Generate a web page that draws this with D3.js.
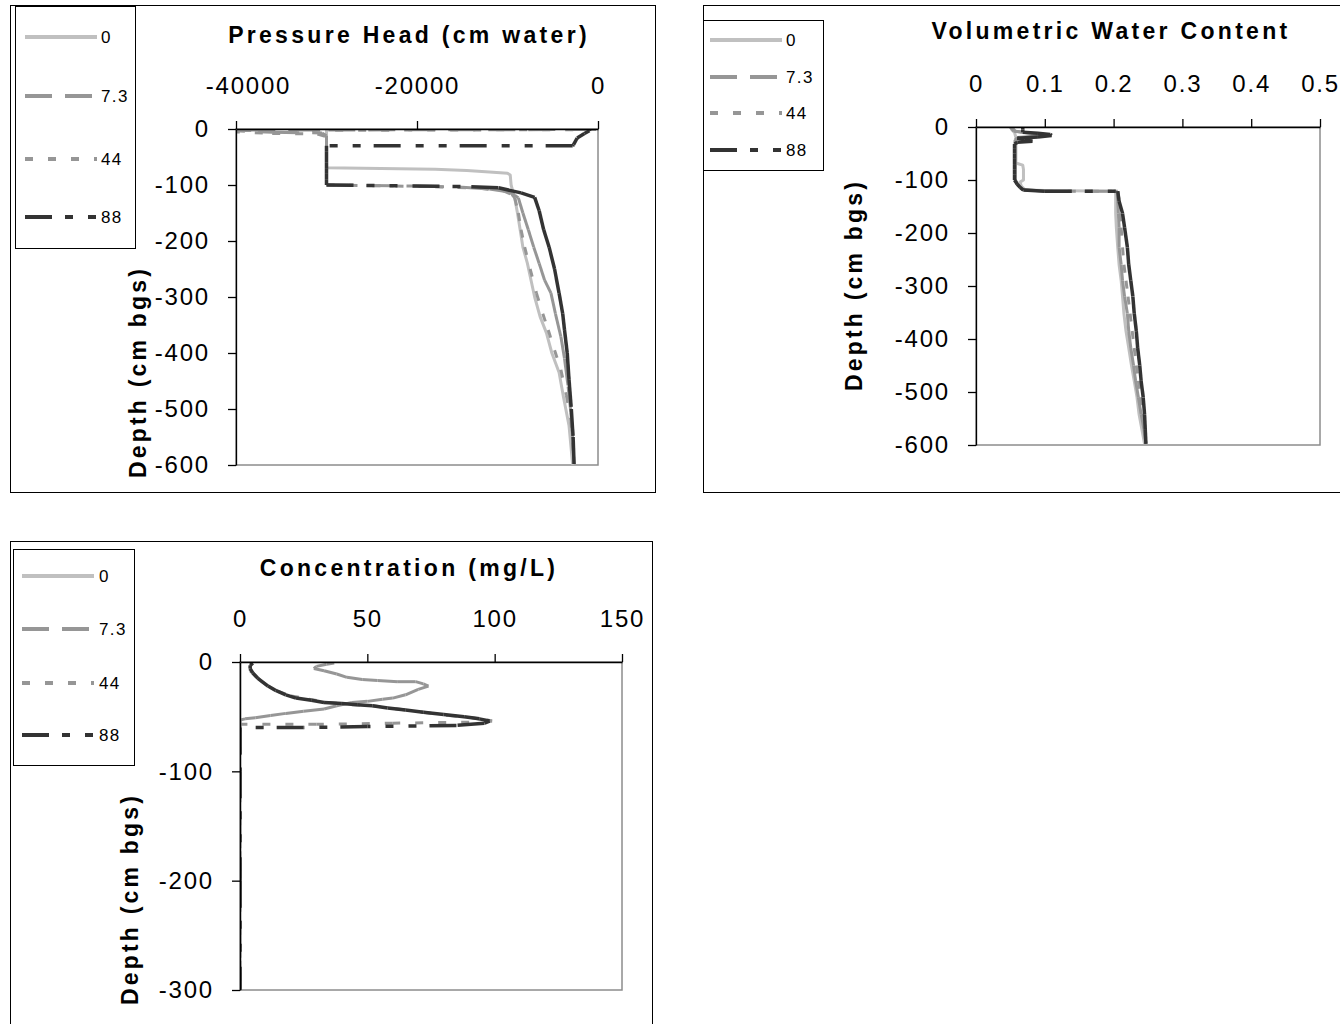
<!DOCTYPE html>
<html>
<head>
<meta charset="utf-8">
<script src="https://cdn.jsdelivr.net/npm/d3@7"></script>
<style>
html, body { margin: 0; padding: 0; background: #fff; }
svg { display: block; }
</style>
</head>
<body>
<svg id="chart" width="1340" height="1024"></svg>
<script>
// Elapsed time of each profile (legend entries)
const seriesNames = ["0", "7.3", "44", "88"];

// Pressure head profiles: [head (cm water), depth (cm bgs)]
const head0 = [[-30000,0],[-30000,-10],[-30000,-20],[-30000,-30],[-30000,-40],[-30000,-50],[-30000,-60],[-30000,-69],
  [-26000,-70],[-22000,-71],[-18000,-72],[-14500,-74],[-12000,-77],[-10000,-79],[-9700,-82],[-9600,-100],[-9400,-112],
  [-9200,-123],[-8900,-150],[-8600,-180],[-8300,-211],[-7800,-240],[-7400,-270],[-7000,-300],[-6400,-335],[-5700,-364],
  [-5100,-400],[-4300,-435],[-3800,-480],[-3200,-530],[-3000,-565],[-2800,-600]];
const head73 = [[-300,-1],[-42000,-2],[-36000,-6],[-30500,-7],[-30000,-12],[-30000,-20],[-30000,-30],[-30000,-40],
  [-30000,-50],[-30000,-60],[-30000,-70],[-30000,-80],[-30000,-90],[-30000,-100],[-20000,-102],[-15000,-104],
  [-12000,-107],[-10000,-112],[-9200,-118],[-8800,-123],[-8300,-150],[-7700,-180],[-7100,-211],[-6500,-240],
  [-5900,-270],[-5200,-293],[-4700,-330],[-4100,-371],[-3700,-410],[-3300,-460],[-3000,-506],[-2800,-550],[-2650,-600]];
const head44 = [[-200,-1],[-43000,-3],[-36000,-8],[-31000,-9],[-30000,-14],[-30000,-20],[-30000,-30],[-30000,-40],
  [-30000,-50],[-30000,-60],[-30000,-70],[-30000,-80],[-30000,-90],[-30000,-100],[-18000,-103],[-13000,-106],
  [-10500,-110],[-9500,-117],[-9200,-123],[-8800,-150],[-8500,-180],[-8100,-211],[-7500,-250],[-6800,-293],
  [-6100,-330],[-5500,-359],[-4800,-395],[-4100,-430],[-3500,-475],[-3000,-519],[-2800,-560],[-2650,-597]];
const head88 = [[-900,0],[-950,-3],[-1500,-8],[-2300,-16],[-2700,-28],[-2800,-30],[-30000,-30],[-30000,-40],
  [-30000,-50],[-30000,-60],[-30000,-70],[-30000,-80],[-30000,-90],[-30000,-100],[-14000,-103],[-11000,-105],
  [-8500,-114],[-7000,-122],[-6500,-146],[-6000,-180],[-5400,-211],[-4800,-250],[-4300,-293],[-3900,-330],
  [-3700,-359],[-3400,-400],[-3200,-448],[-2950,-500],[-2750,-550],[-2640,-600]];

// Volumetric water content profiles: [theta, depth (cm bgs)]
const wc0 = [[0.05,0],[0.052,-5],[0.056,-10],[0.058,-20],[0.058,-68],[0.068,-72],[0.069,-80],[0.069,-100],
  [0.064,-104],[0.066,-112],[0.072,-119],[0.1,-120],[0.203,-121],[0.203,-163],[0.204,-190],[0.206,-227],[0.208,-260],
  [0.211,-290],[0.213,-320],[0.215,-352],[0.218,-385],[0.222,-417],[0.226,-450],[0.230,-479],[0.234,-510],
  [0.237,-542],[0.241,-570],[0.245,-598]];
const wc73 = [[0.05,0],[0.055,-8],[0.08,-12],[0.1,-14],[0.09,-17],[0.06,-20],[0.057,-25],[0.057,-30],[0.057,-40],
  [0.057,-50],[0.057,-60],[0.057,-70],[0.057,-80],[0.057,-90],[0.057,-100],[0.06,-108],[0.068,-118],[0.1,-121],
  [0.205,-121],[0.206,-140],[0.207,-163],[0.208,-190],[0.208,-227],[0.211,-260],[0.213,-290],[0.216,-320],
  [0.220,-352],[0.222,-385],[0.225,-417],[0.229,-450],[0.232,-479],[0.236,-510],[0.240,-542],[0.244,-570],[0.247,-598]];
const wc44 = [[0.052,0],[0.057,-8],[0.085,-13],[0.095,-15],[0.065,-19],[0.057,-24],[0.057,-30],[0.057,-40],
  [0.057,-50],[0.057,-60],[0.057,-70],[0.057,-80],[0.057,-90],[0.057,-100],[0.06,-108],[0.068,-119],[0.1,-121],
  [0.206,-121],[0.208,-140],[0.209,-163],[0.211,-190],[0.213,-227],[0.215,-260],[0.218,-290],[0.221,-320],
  [0.224,-352],[0.227,-385],[0.230,-417],[0.233,-450],[0.236,-479],[0.239,-510],[0.242,-542],[0.245,-570],[0.247,-598]];
const wc88 = [[0.068,0],[0.068,-5],[0.068,-10],[0.09,-12],[0.108,-14],[0.11,-16],[0.09,-19],[0.06,-21],[0.07,-24],
  [0.082,-27],[0.06,-29],[0.056,-32],[0.056,-40],[0.056,-50],[0.056,-60],[0.056,-70],[0.056,-80],[0.056,-90],
  [0.056,-100],[0.06,-108],[0.064,-114],[0.069,-119],[0.1,-121],[0.206,-121],[0.208,-140],[0.213,-163],[0.216,-190],
  [0.220,-227],[0.222,-260],[0.225,-290],[0.228,-320],[0.230,-352],[0.233,-385],[0.235,-417],[0.238,-450],
  [0.240,-479],[0.243,-510],[0.245,-542],[0.246,-570],[0.247,-598]];

// Concentration profiles: [concentration (mg/L), depth (cm bgs)]
const conc0 = [[0,0],[0,-300]];
const conc73 = [[37,-1],[34,-2],[30,-4],[29,-6],[33,-8],[38,-11],[42,-14],[48,-16],[54,-17],[62,-18],[69,-18],
  [72,-20],[74,-22],[70,-25],[65,-30],[60,-33],[56,-34],[50,-36],[44,-37],[38,-40],[33,-43],[25,-45],[18,-47],
  [12,-49],[6,-51],[2,-52],[0,-53],[0,-60],[0,-100],[0,-200],[0,-300]];
const conc44 = [[5,-1],[4,-4],[4,-8],[6,-12],[8,-17],[11,-22],[15,-27],[20,-31],[27,-34],[35,-37],[44,-39],[52,-40],
  [62,-43],[72,-46],[82,-49],[91,-51],[97,-53],[99,-54],[90,-55],[60,-56],[30,-57],[0,-57],[0,-100],[0,-200],[0,-300]];
const conc88 = [[5,-1],[4,-3],[4,-6],[5,-10],[7,-15],[11,-22],[14,-26],[18,-30],[22,-33],[28,-35],[33,-37],[40,-38],
  [46,-39],[52,-40],[58,-42],[65,-44],[72,-46],[80,-48],[88,-50],[94,-52],[98,-54],[96,-56],[85,-58],[50,-59],
  [25,-60],[0,-60],[0,-100],[0,-200],[0,-300]];

// Tick values
const headTicksX = [-40000, -20000, 0];
const wcTicksX = [0, 0.1, 0.2, 0.3, 0.4, 0.5];
const concTicksX = [0, 50, 100, 150];
const depthTicks600 = [0, -100, -200, -300, -400, -500, -600];
const depthTicks300 = [0, -100, -200, -300];

// Line styles per profile
const seriesStyle = [
  { color: "#c0c0c0", dash: null },
  { color: "#969696", dash: [27, 13] },
  { color: "#969696", dash: [8, 15] },
  { color: "#333333", dash: [27, 13, 8, 15, 8, 15] }
];

const FONT = '"Liberation Sans", Arial, Helvetica, sans-serif';
const svg = d3.select("#chart");

const panels = [
  {
    frame: { x: 10, y: 5, w: 645, h: 487 },
    legend: { x: 15, y: 6, w: 120, h: 242, lx0: 25, lx1: 97, tx: 101, ys: [37, 96, 159, 217] },
    plot: { x0: 236, x1: 598, y0: 129, y1: 465 },
    xDomain: [-40000, 0], yDomain: [0, -600],
    xTicks: headTicksX, yTicks: depthTicks600, firstLabelShift: 12,
    title: { text: "Pressure Head (cm water)", x: 409, y: 43 },
    yTitle: { x: 146, y: 372 },
    series: [head0, head73, head44, head88]
  },
  {
    frame: { x: 703, y: 5, w: 700, h: 487 },
    legend: { x: 703, y: 20, w: 120, h: 150, lx0: 710, lx1: 782, tx: 786, ys: [40, 77, 113, 150] },
    plot: { x0: 976, x1: 1320, y0: 127, y1: 445 },
    xDomain: [0, 0.5], yDomain: [0, -600],
    xTicks: wcTicksX, yTicks: depthTicks600, firstLabelShift: 0,
    title: { text: "Volumetric Water Content", x: 1111, y: 39 },
    yTitle: { x: 862, y: 285 },
    series: [wc0, wc73, wc44, wc88]
  },
  {
    frame: { x: 10, y: 541, w: 642, h: 500 },
    legend: { x: 13, y: 549, w: 121, h: 216, lx0: 22, lx1: 94, tx: 99, ys: [576, 629, 683, 735] },
    plot: { x0: 240, x1: 622, y0: 662, y1: 990 },
    xDomain: [0, 150], yDomain: [0, -300],
    xTicks: concTicksX, yTicks: depthTicks300, firstLabelShift: 0,
    title: { text: "Concentration (mg/L)", x: 409, y: 576 },
    yTitle: { x: 138, y: 899 },
    series: [conc0, conc73, conc44, conc88]
  }
];

function drawPanel(cfg, idx) {
  const g = svg.append("g").attr("class", "panel");
  const f = cfg.frame, p = cfg.plot, L = cfg.legend;

  // chart frame
  g.append("rect")
    .attr("x", f.x + 0.5).attr("y", f.y + 0.5)
    .attr("width", f.w).attr("height", f.h)
    .attr("fill", "#fff").attr("stroke", "#000").attr("stroke-width", 1);

  const x = d3.scaleLinear().domain(cfg.xDomain).range([p.x0, p.x1]);
  const y = d3.scaleLinear().domain(cfg.yDomain).range([p.y0, p.y1]);

  // plot area border
  g.append("rect")
    .attr("x", p.x0).attr("y", p.y0)
    .attr("width", p.x1 - p.x0).attr("height", p.y1 - p.y0)
    .attr("fill", "none").attr("stroke", "#8c8c8c").attr("stroke-width", 1.5);

  const clipId = "plotclip" + idx;
  g.append("clipPath").attr("id", clipId)
    .append("rect")
    .attr("x", p.x0).attr("y", p.y0)
    .attr("width", p.x1 - p.x0).attr("height", p.y1 - p.y0);

  const line = d3.line().x(d => x(d[0])).y(d => y(d[1]));
  const sg = g.append("g").attr("clip-path", `url(#${clipId})`);

  cfg.series.forEach((pts, i) => {
    const st = seriesStyle[i];
    const w = i === 3 ? 3.5 : 3;
    if (!st.dash) {
      sg.append("path")
        .attr("d", line(pts))
        .attr("fill", "none").attr("stroke", st.color)
        .attr("stroke-width", w).attr("stroke-linejoin", "round");
    } else {
      // the dash pattern restarts at every data point
      sg.append("g").selectAll("path")
        .data(d3.pairs(pts))
        .join("path")
        .attr("d", d => line(d))
        .attr("fill", "none").attr("stroke", st.color)
        .attr("stroke-width", w)
        .attr("stroke-dasharray", st.dash.join(","));
    }
  });

  // axes
  const xAxis = d3.axisTop(x).tickValues(cfg.xTicks).tickFormat(d => String(d))
    .tickSize(8).tickSizeOuter(0).tickPadding(27);
  const yAxis = d3.axisLeft(y).tickValues(cfg.yTicks).tickFormat(d => String(d))
    .tickSize(8).tickSizeOuter(0).tickPadding(18);

  [[xAxis, `translate(0,${p.y0})`, true], [yAxis, `translate(${p.x0},0)`, false]].forEach(([ax, tr, isX]) => {
    const ga = g.append("g").attr("transform", tr).call(ax);
    ga.attr("font-family", null).attr("font-size", null);
    ga.select(".domain").attr("stroke", "#000").attr("stroke-width", 1.3);
    ga.selectAll(".tick line").attr("stroke", "#000").attr("stroke-width", 1.3);
    ga.selectAll(".tick text")
      .attr("fill", "#000")
      .style("font-family", FONT)
      .style("font-size", "24px")
      .style("letter-spacing", "1.8px");
    if (isX && cfg.firstLabelShift) {
      // keep the first label clear of the axis corner
      ga.select(".tick text").attr("dx", cfg.firstLabelShift);
    }
  });

  // titles
  g.append("text")
    .attr("x", cfg.title.x).attr("y", cfg.title.y)
    .attr("text-anchor", "middle")
    .style("font-family", FONT).style("font-size", "23px")
    .style("font-weight", "bold").style("letter-spacing", "3.3px")
    .text(cfg.title.text);

  g.append("text")
    .attr("transform", `translate(${cfg.yTitle.x},${cfg.yTitle.y}) rotate(-90)`)
    .attr("text-anchor", "middle")
    .style("font-family", FONT).style("font-size", "23px")
    .style("font-weight", "bold").style("letter-spacing", "3.2px")
    .text("Depth (cm bgs)");

  // legend
  const lg = g.append("g");
  lg.append("rect")
    .attr("x", L.x + 0.5).attr("y", L.y + 0.5)
    .attr("width", L.w).attr("height", L.h)
    .attr("fill", "#fff").attr("stroke", "#000").attr("stroke-width", 1);
  seriesNames.forEach((name, i) => {
    const st = seriesStyle[i];
    lg.append("line")
      .attr("x1", L.lx0).attr("x2", L.lx1)
      .attr("y1", L.ys[i]).attr("y2", L.ys[i])
      .attr("stroke", st.color).attr("stroke-width", 4)
      .attr("stroke-dasharray", st.dash ? st.dash.join(",") : null);
    lg.append("text")
      .attr("x", L.tx).attr("y", L.ys[i])
      .attr("dy", "0.36em")
      .style("font-family", FONT).style("font-size", "17px")
      .style("letter-spacing", "1.4px")
      .text(name);
  });
}

panels.forEach(drawPanel);
</script>
</body>
</html>
